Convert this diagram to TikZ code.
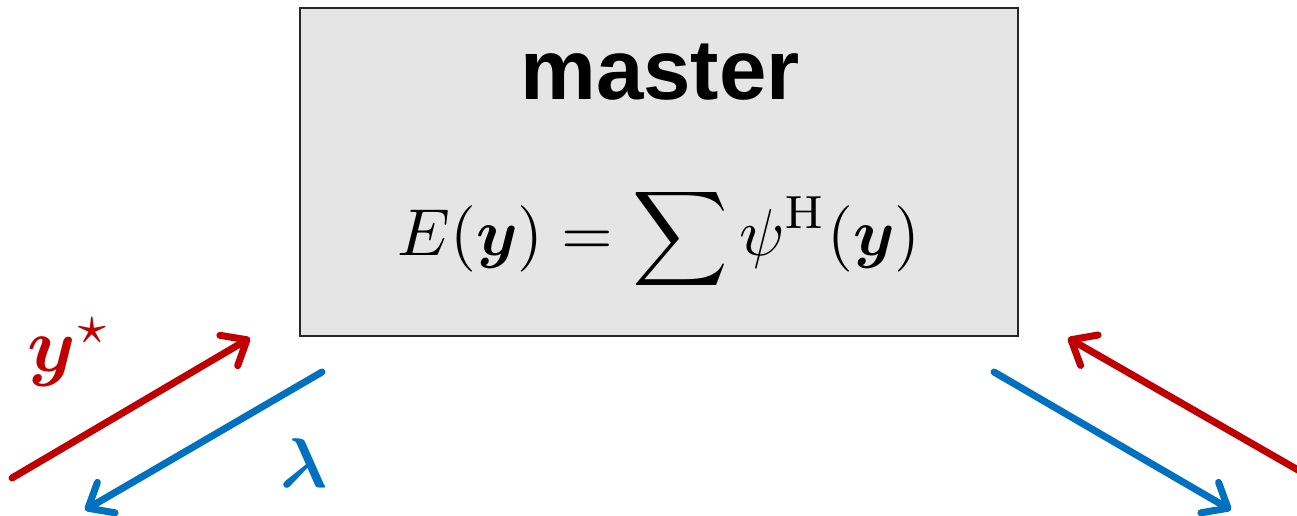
\documentclass[tikz,border=0pt]{standalone}
\usepackage{fontspec}
\usepackage{amsmath}
\usepackage{bm}
\newfontfamily\labelsans{Liberation Sans}
\usetikzlibrary{arrows.meta}
\definecolor{myred}{HTML}{C00000}
\definecolor{myblue}{HTML}{0070C0}
\definecolor{boxgray}{HTML}{E5E5E5}
\tikzset{
  flow/.style={line width=4pt, line cap=round, -{Straight Barb[length=12pt,width=20pt,line cap=round,line join=round]}},
  masterbox/.style={draw=black!85, fill=boxgray, line width=1.2pt, minimum width=718*0.02cm, minimum height=328*0.02cm, inner sep=0pt},
}
\begin{document}
\begin{tikzpicture}[x=0.02cm,y=-0.02cm]
\useasboundingbox (0,0) rectangle (1297,516);
\node[masterbox] (master) at (659,172) {};
\node[anchor=base, font=\labelsans\bfseries\fontsize{48.5}{55}\selectfont] (title) at (660,100) {master};
\node[anchor=base, scale=3.78, inner sep=0pt] (eq) at (659,256) {$\displaystyle E(\bm{y}) = \sum \psi^{\mathrm{H}}(\bm{y})$};
\coordinate (lrt) at (12,478);
\coordinate (lrh) at (250,338);
\coordinate (lbt) at (322,372);
\coordinate (lbh) at (85,510);
\coordinate (rrt) at (1305,474);
\coordinate (rrh) at (1068,338);
\coordinate (rbt) at (994,372);
\coordinate (rbh) at (1231,510);
\draw[flow, myred] (lrt) -- (lrh);
\draw[flow, myblue] (lbt) -- (lbh);
\draw[flow, myred] (rrt) -- (rrh);
\draw[flow, myblue] (rbt) -- (rbh);
\node[myred, scale=4.4, inner sep=0pt] (ystar) at (70,352) {$\bm{y}^{\star}$};
\node[myblue, scale=4.0, inner sep=0pt] (lam) at (304,463) {$\bm{\lambda}$};
\end{tikzpicture}
\end{document}
